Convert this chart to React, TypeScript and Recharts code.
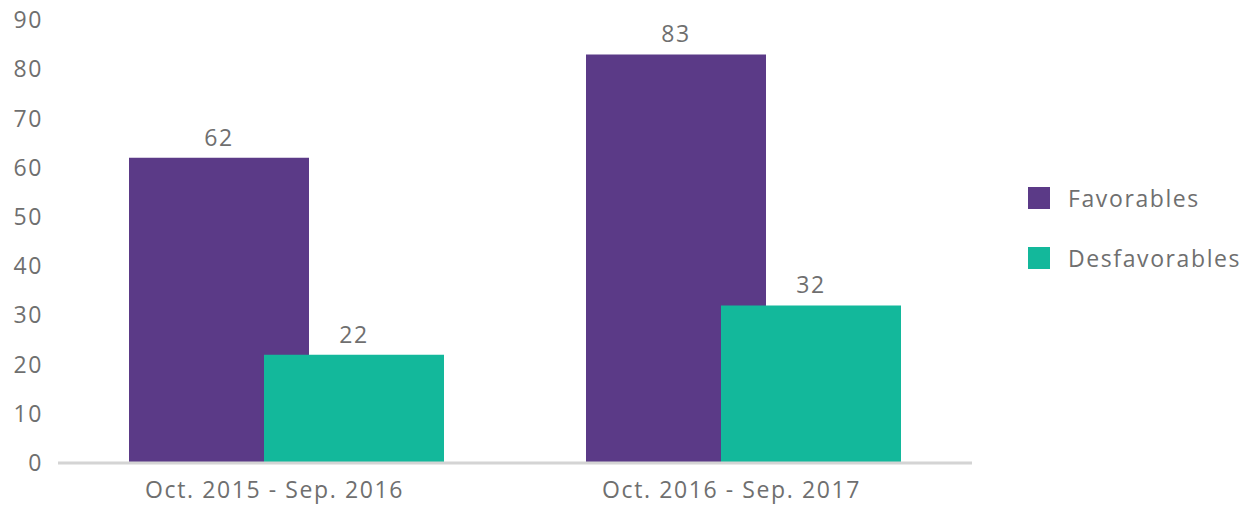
import { BarChart, Bar, XAxis, YAxis, Legend, LabelList } from "recharts";

const periods = ["Oct. 2015 - Sep. 2016", "Oct. 2016 - Sep. 2017"];
const favorables = [62, 83];
const desfavorables = [22, 32];
const yTicks = [0, 10, 20, 30, 40, 50, 60, 70, 80, 90];
const seriesOrder = ["Favorables", "Desfavorables"];

const PURPLE = "#5b3a87";
const TEAL = "#13b89b";
const TEXT = "#6f6f6f";
const FONT = "'Open Sans', sans-serif";
const textStyle = { fill: TEXT, fontSize: 23, fontFamily: FONT, letterSpacing: 1.6 };

const data = periods.map((p, i) => ({
  period: p,
  Favorables: favorables[i],
  Desfavorables: desfavorables[i],
}));

function LegendBox({ payload }: any) {
  const items = [...(payload || [])].sort(
    (a: any, b: any) => seriesOrder.indexOf(a.value) - seriesOrder.indexOf(b.value)
  );
  return (
    <div style={{ width: 245, paddingLeft: 56, boxSizing: "border-box", fontFamily: FONT, overflow: "visible" }}>
      {items.map((item: any, i: number) => (
        <div
          key={item.value}
          style={{ display: "flex", alignItems: "center", height: 22, marginTop: i === 0 ? 0 : 38, whiteSpace: "nowrap" }}
        >
          <span style={{ width: 22, height: 22, flexShrink: 0, background: item.color, display: "inline-block" }} />
          <span style={{ marginLeft: 18, flexShrink: 0, fontSize: 23, letterSpacing: 1.6, color: TEXT }}>{item.value}</span>
        </div>
      ))}
    </div>
  );
}

export default function App() {
  return (
    <div style={{ position: "absolute", left: 0, top: 0, background: "#fff" }}>
      <BarChart
        width={1247}
        height={508}
        data={data}
        margin={{ top: 20, right: 30, bottom: 0, left: 0 }}
        barSize={180}
        barGap={-45}
      >
        <XAxis
          dataKey="period"
          height={45}
          tickLine={false}
          tickMargin={13}
          axisLine={{ stroke: "#d4d4d4", strokeWidth: 3 }}
          tick={{ ...textStyle, dx: -12 }}
        />
        <YAxis
          width={58}
          domain={[0, 90]}
          ticks={yTicks}
          axisLine={false}
          tickLine={false}
          tickMargin={9}
          tick={textStyle}
        />
        <Legend
          layout="vertical"
          align="right"
          verticalAlign="middle"
          wrapperStyle={{ top: 187, right: 30 }}
          content={<LegendBox />}
        />
        <Bar dataKey="Favorables" fill={PURPLE} isAnimationActive={false}>
          <LabelList dataKey="Favorables" position="top" offset={12} {...textStyle} />
        </Bar>
        <Bar dataKey="Desfavorables" fill={TEAL} isAnimationActive={false}>
          <LabelList dataKey="Desfavorables" position="top" offset={12} {...textStyle} />
        </Bar>
      </BarChart>
    </div>
  );
}
